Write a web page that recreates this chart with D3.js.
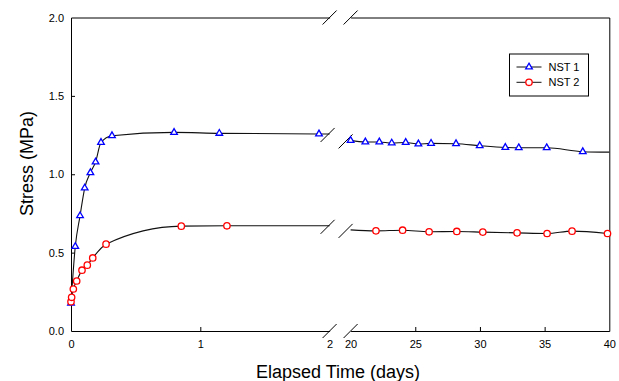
<!DOCTYPE html>
<html>
<head>
<meta charset="utf-8">
<script src="https://cdn.jsdelivr.net/npm/d3@7"></script>
<style>
  body { margin: 0; background: #fff; }
  text { font-family: Arial, "Liberation Sans", sans-serif; }
</style>
</head>
<body>
<svg></svg>
<script>
// values
const nst1Days = [0, 0.033, 0.07, 0.106, 0.15, 0.19, 0.232, 0.317, 0.797, 1.147, 1.918,
                  20.0, 21.14, 22.22, 23.18, 24.26, 25.24, 26.22, 28.15, 29.98, 31.96, 33.0, 35.16, 37.95];
const nst1Stress = [0.177, 0.539, 0.735, 0.912, 1.01, 1.078, 1.203, 1.246, 1.267, 1.261, 1.257,
                    1.216, 1.206, 1.206, 1.199, 1.203, 1.193, 1.197, 1.195, 1.182, 1.171, 1.169, 1.169, 1.144];
const nst2Days = [0, 0.005, 0.018, 0.044, 0.085, 0.126, 0.168, 0.271, 0.853, 1.206,
                  21.96, 24.02, 26.07, 28.21, 30.22, 32.87, 35.19, 37.12, 39.86];
const nst2Stress = [0.187, 0.215, 0.268, 0.319, 0.388, 0.42, 0.466, 0.554, 0.669, 0.671,
                    0.639, 0.643, 0.633, 0.635, 0.631, 0.626, 0.622, 0.637, 0.622];
// where the drawn curves run on past the last marker (day, stress)
const nst1CurveEnds = [[2, 1.257], [40, 1.141]];
const nst2CurveEnds = [[2, 0.671], [20, 0.645]];

const leftTicks = [0, 1, 2];
const rightTicks = [20, 25, 30, 35, 40];
const yTicks = [0, 0.5, 1.0, 1.5, 2.0];
const seriesNames = ["NST 1", "NST 2"];

const W = 619, H = 381;
const svg = d3.select('svg')
    .attr("width", W)
    .attr("height", H);

const xLeft = d3.scaleLinear().domain([0, 2]).range([71, 329.6]);
const xRight = d3.scaleLinear().domain([20, 40]).range([350.6, 609.3]);
const x = function(d) { return d <= 2 ? xLeft(d) : xRight(d); };
const y = d3.scaleLinear().domain([0, 2]).range([331, 17.5]);

const yTop = y(2), yBottom = y(0);

function toPoints(days, stress) {
  return days.map(function(d, i) { return [d, stress[i]]; });
}
const nst1 = toPoints(nst1Days, nst1Stress);
const nst2 = toPoints(nst2Days, nst2Stress);

// axes
function styleAxis(g) {
  g.selectAll("path, line").attr("stroke", "#000").attr("stroke-width", 1);
  g.selectAll("text").attr("font-size", 11).attr("fill", "#000")
    .attr("font-family", 'Arial, "Liberation Sans", sans-serif');
}

svg.append('g')
    .attr('transform', `translate(0, ${yBottom})`)
    .call(d3.axisBottom(xLeft).tickValues(leftTicks).tickFormat(d3.format("d"))
      .tickSizeInner(-4).tickSizeOuter(0).tickPadding(9))
    .call(styleAxis)
    .call(g => g.selectAll(".tick line").filter(d => d !== 1).remove());

svg.append('g')
    .attr('transform', `translate(0, ${yBottom})`)
    .call(d3.axisBottom(xRight).tickValues(rightTicks).tickFormat(d3.format("d"))
      .tickSizeInner(-4).tickSizeOuter(0).tickPadding(9))
    .call(styleAxis)
    .call(g => g.selectAll(".tick line").filter(d => d === 20 || d === 40).remove());

svg.append('g')
    .attr('transform', `translate(0, ${yTop})`)
    .call(d3.axisTop(xLeft).tickValues([]).tickSizeOuter(0))
    .call(styleAxis);

svg.append('g')
    .attr('transform', `translate(0, ${yTop})`)
    .call(d3.axisTop(xRight).tickValues([]).tickSizeOuter(0))
    .call(styleAxis);

svg.append('g')
    .attr('transform', `translate(${xLeft(0)}, 0)`)
    .call(d3.axisLeft(y).tickValues(yTicks).tickFormat(d3.format(".1f"))
      .tickSizeInner(-4).tickSizeOuter(0).tickPadding(7))
    .call(styleAxis)
    .call(g => g.selectAll(".tick line").filter(d => d === 0 || d === 2).remove());

svg.append('g')
    .attr('transform', `translate(${xRight(40)}, 0)`)
    .call(d3.axisRight(y).tickValues([]).tickSizeOuter(0))
    .call(styleAxis);

// curves, drawn as two pieces either side of the break
const line = d3.line()
    .x(function(d) { return x(d[0]); })
    .y(function(d) { return y(d[1]); })
    .curve(d3.curveMonotoneX);

function drawCurve(points, ends) {
  const all = points.concat(ends).sort(function(a, b) { return a[0] - b[0]; });
  const left = all.filter(d => d[0] <= 2);
  const right = all.filter(d => d[0] >= 20);
  [left, right].forEach(function(piece) {
    svg.append("path")
        .datum(piece)
        .attr("d", line)
        .attr("fill", "none")
        .attr("stroke", "#111")
        .attr("stroke-width", 1.1);
  });
  return [left[left.length - 1], right[0]];
}

const breaks1 = drawCurve(nst1, nst1CurveEnds);
const breaks2 = drawCurve(nst2, nst2CurveEnds);

// break marks on axes and curves
function slash(cx, cy) {
  svg.append("line")
      .attr("x1", cx - 7).attr("y1", cy + 7)
      .attr("x2", cx + 7).attr("y2", cy - 7)
      .attr("stroke", "#000")
      .attr("stroke-width", 1);
}
[yTop, yBottom].forEach(function(yy) {
  slash(xLeft(2), yy);
  slash(xRight(20), yy);
});
[breaks1, breaks2].forEach(function(b) {
  slash(x(b[0][0]) - 2, y(b[0][1]) + 1);
  slash(x(b[1][0]) - 5, y(b[1][1]) + 1);
});

// markers
const tri = d3.symbol().type(d3.symbolTriangle).size(19);

svg.selectAll(".nst1")
    .data(nst1)
    .enter().append("path")
    .attr("class", "nst1")
    .attr("d", tri)
    .attr("transform", function(d) { return `translate(${x(d[0])}, ${y(d[1])})`; })
    .attr("fill", "#fff")
    .attr("stroke", "#0000ff")
    .attr("stroke-width", 1.3);

svg.selectAll(".nst2")
    .data(nst2)
    .enter().append("circle")
    .attr("class", "nst2")
    .attr("cx", function(d) { return x(d[0]); })
    .attr("cy", function(d) { return y(d[1]); })
    .attr("r", 3.2)
    .attr("fill", "#fff")
    .attr("stroke", "#ff0000")
    .attr("stroke-width", 1.3);

// axis titles
svg.append("text")
    .attr("transform", "translate(33, 163.5) rotate(-90)")
    .attr("text-anchor", "middle")
    .attr("font-size", 18)
    .text("Stress (MPa)");

svg.append("text")
    .attr("x", 338)
    .attr("y", 378)
    .attr("text-anchor", "middle")
    .attr("font-size", 18)
    .text("Elapsed Time (days)");

// legend
const legend = svg.append("g").attr("transform", "translate(509.5, 54)");
legend.append("rect")
    .attr("width", 79)
    .attr("height", 42)
    .attr("fill", "#fff")
    .attr("stroke", "#000")
    .attr("stroke-width", 1);

seriesNames.forEach(function(name, i) {
  const ly = 13 + i * 15.3;
  legend.append("line")
      .attr("x1", 7).attr("x2", 32)
      .attr("y1", ly).attr("y2", ly)
      .attr("stroke", "#111");
  if (i === 0) {
    legend.append("path")
        .attr("d", tri)
        .attr("transform", `translate(19.5, ${ly})`)
        .attr("fill", "#fff")
        .attr("stroke", "#0000ff")
        .attr("stroke-width", 1.3);
  } else {
    legend.append("circle")
        .attr("cx", 19.5).attr("cy", ly).attr("r", 3.2)
        .attr("fill", "#fff")
        .attr("stroke", "#ff0000")
        .attr("stroke-width", 1.3);
  }
  legend.append("text")
      .attr("x", 39)
      .attr("y", ly)
      .attr("dy", "0.35em")
      .attr("font-size", 11)
      .text(name);
});
</script>
</body>
</html>
